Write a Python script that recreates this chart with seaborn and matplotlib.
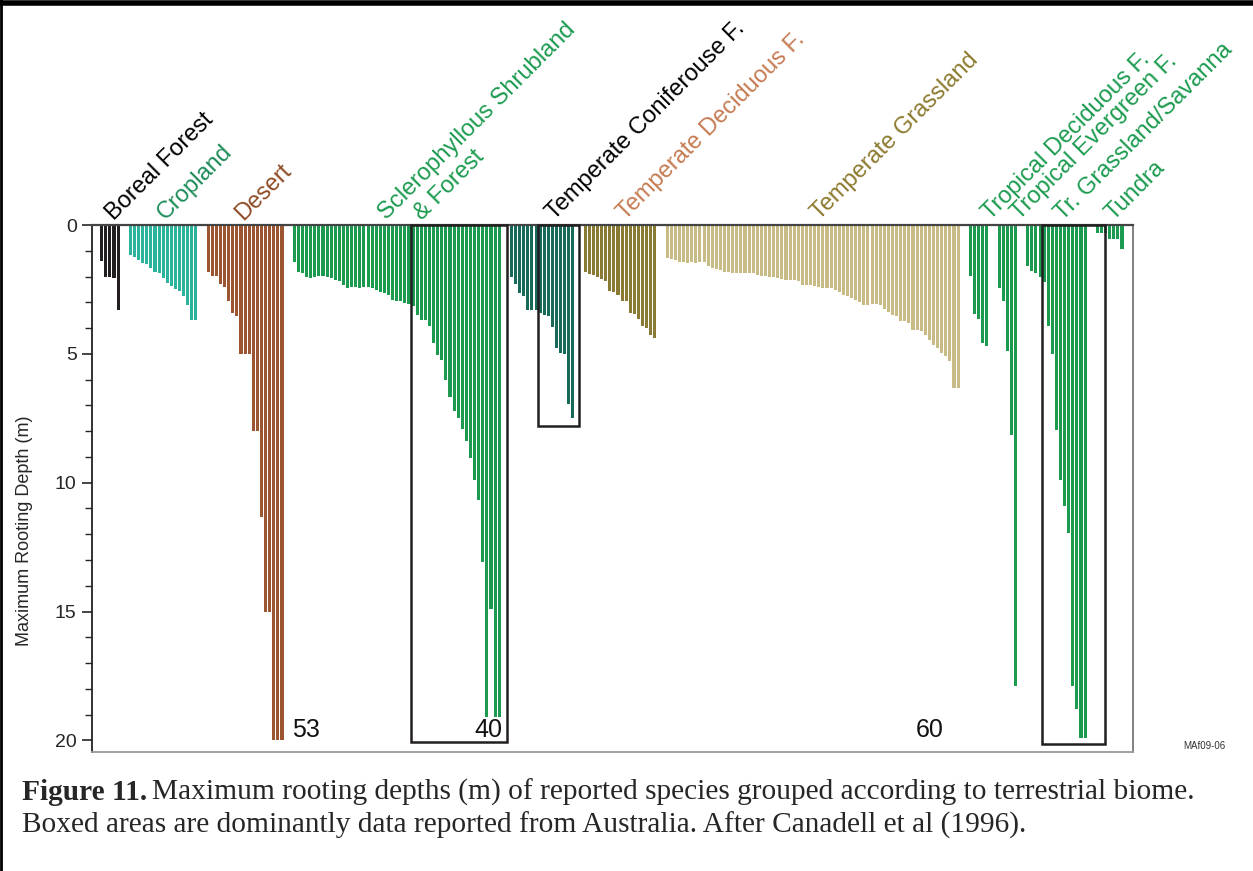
import numpy as np
import pandas as pd
import matplotlib
matplotlib.use("Agg")
from matplotlib import pyplot
from matplotlib.patches import Rectangle
import matplotlib.ticker as ticker
import seaborn as sns

# maximum rooting depth (m) of each reported species, per biome
boreal = [1.4, 2.0, 2.0, 2.05, 3.3]
cropland = [1.16, 1.26, 1.35, 1.48, 1.52, 1.68, 1.83, 1.87, 2.06, 2.26, 2.35, 2.48, 2.55, 2.77, 3.09, 3.7, 3.7]
desert = [1.81, 1.97, 1.97, 2.28, 2.42, 2.94, 3.42, 3.55, 5.0, 5.0, 5.0, 8.0, 8.0, 11.35, 15.0, 15.0, 20.0, 20.0, 20.0]
sclerophyllous = [1.42, 1.81, 1.87, 2.02, 2.06, 2.02, 1.97, 1.97, 2.02, 2.06, 2.15, 2.19, 2.32, 2.45, 2.41,
                  2.41, 2.45, 2.41, 2.42, 2.45, 2.51, 2.6, 2.62, 2.71, 2.9, 2.96, 2.94, 3.02, 3.05,
                  3.16, 3.48, 3.67, 3.7, 3.93, 4.58, 5.03, 5.22, 6.02, 6.67, 7.22, 7.48, 7.93, 8.38, 9.06,
                  9.9, 10.68, 13.09, 19.1, 14.89, 19.1, 19.1]
coniferous = [2.0, 2.28, 2.62, 2.77, 3.29, 3.29, 3.29, 3.42, 3.48, 3.55, 3.96, 4.77, 4.96, 5.0, 6.94, 7.5]
deciduous = [1.81, 1.9, 1.93, 2.02, 2.1, 2.19, 2.57, 2.6, 2.7, 2.96, 2.96, 3.4, 3.45, 3.64, 3.93, 4.0, 4.26, 4.4]
grassland = [1.29, 1.3, 1.35, 1.42, 1.45, 1.48, 1.45, 1.48, 1.45, 1.45, 1.61, 1.68, 1.7, 1.75, 1.82, 1.82,
             1.86, 1.86, 1.86, 1.86, 1.88, 1.86, 1.93, 1.96, 1.99, 2.01, 2.02, 2.05, 2.08, 2.12, 2.12,
             2.15, 2.18, 2.31, 2.34, 2.32, 2.35, 2.41, 2.46, 2.46, 2.46, 2.51, 2.61, 2.71, 2.75, 2.84,
             2.9, 3.0, 3.09, 3.09, 3.05, 3.05, 3.09, 3.26, 3.39, 3.48, 3.55, 3.74, 3.74, 3.8, 4.06,
             4.06, 4.13, 4.26, 4.45, 4.64, 4.77, 4.96, 5.09, 5.28, 6.32, 6.32]
trop_deciduous = [1.96, 3.46, 3.65, 4.58, 4.71]
trop_evergreen = [2.45, 2.94, 4.9, 8.16, 17.9]
savanna = [1.6, 1.8, 1.87, 2.0, 2.23, 3.9, 5.0, 7.96, 9.9, 10.9, 11.95, 17.9, 18.8, 19.9, 19.9]
tundra = [0.3, 0.3, 0.3, 0.54, 0.54, 0.54, 0.92]

biomes = ['Boreal Forest', 'Cropland', 'Desert', 'Sclerophyllous Shrubland', 'Temperate Coniferouse F.',
          'Temperate Deciduous F.', 'Temperate Grassland', 'Tropical Deciduous F.', 'Tropical Evergreen F.',
          'Tr. Grassland/Savanna', 'Tundra']
depths = [boreal, cropland, desert, sclerophyllous, coniferous, deciduous, grassland,
          trop_deciduous, trop_evergreen, savanna, tundra]
bar_colors = ['#231F20', '#2BB39D', '#9B5530', '#1C9B50', '#17695A', '#8A7A33', '#C9BB86',
              '#1C9B50', '#1C9B50', '#1C9B50', '#1C9B50']
label_colors = ['#000000', '#1C8C58', '#8E4A26', '#1C9B50', '#000000', '#C57B52', '#8C7A2E',
                '#1C9B50', '#1C9B50', '#1C9B50', '#1C9B50']
# values of the truncated bars (beyond 20 m)
off_scale = ['53', '40', '60']

# ---- build table ----
gap = 3
rows = []
starts = []
start = 0
for name, vals in zip(biomes, depths):
    starts.append(start)
    for i, v in enumerate(vals):
        rows.append((start + i, v, name))
    start += len(vals) - 1 + gap
df = pd.DataFrame(rows, columns=['pos', 'depth', 'biome'])
last = df['pos'].max()

px_pitch = (1122 - 101.7) / last

sns.set_style("ticks")
pyplot.rcParams['font.family'] = ['Liberation Sans', 'DejaVu Sans']

fig = pyplot.figure(figsize=(12.53, 8.71), dpi=100)
ax = fig.add_axes([92 / 1253, 1 - 752 / 871, (1132.7 - 92) / 1253, (752 - 225) / 871])

sns.barplot(data=df, x='pos', y='depth', hue='biome', palette=dict(zip(biomes, bar_colors)),
            native_scale=True, dodge=False, width=0.75, saturation=1, errorbar=None, legend=False,
            linewidth=0, ax=ax)

ax.set_xlim(-(101.7 - 92) / px_pitch, last + (1132.7 - 1122) / px_pitch)
ax.set_ylim(20.45, 0)
ax.set_xticks([])
ax.set_xlabel('')
ax.yaxis.set_major_locator(ticker.MultipleLocator(5))
ax.yaxis.set_minor_locator(ticker.MultipleLocator(1))
ax.tick_params(axis='y', which='major', length=7, width=1.2, labelsize=14, pad=4)
ax.tick_params(axis='y', which='minor', length=5, width=1.0)
ax.set_ylabel('Maximum Rooting Depth (m)', fontsize=13)
ax.yaxis.set_label_coords(-0.057, 0.42)

ax.spines['top'].set_color('#444444')
ax.spines['top'].set_linewidth(1.6)
ax.spines['left'].set_color('#222222')
ax.spines['left'].set_linewidth(1.3)
ax.spines['right'].set_color('#777777')
ax.spines['right'].set_linewidth(1.3)
ax.spines['bottom'].set_color('#999999')
ax.spines['bottom'].set_linewidth(1.3)

# boxed (Australian) data
scl0, con0, sav0, tun0 = starts[3], starts[4], starts[9], starts[10]
boxes = [
    (scl0 + 28.5, scl0 + len(sclerophyllous) + 1.0, 20.05),
    (con0 + 6.5, con0 + len(coniferous) + 0.5, 7.8),
    (sav0 + 3.5, tun0 + 1.9, 20.15),
]
for x0, x1, bottom in boxes:
    ax.add_patch(Rectangle((x0, 0), x1 - x0, bottom, fill=False, edgecolor='#231F20',
                           linewidth=1.8, zorder=5, clip_on=False))

# biome labels
label_shift = [3.0, 8.5, 8.6, 22.6, 10.4, 9.9, 37.1, 4.8, 4.9, 8.5, 4.0]
trans = ax.get_xaxis_transform()
for name, s, sh, c in zip(biomes, starts, label_shift, label_colors):
    ax.text(s + sh, 1.008, name, transform=trans, rotation=45, rotation_mode='anchor',
            ha='left', va='baseline', fontsize=17, color=c, clip_on=False)
ax.text(starts[3] + 31.1, 1.008, '& Forest', transform=trans, rotation=45, rotation_mode='anchor',
        ha='left', va='baseline', fontsize=17, color=label_colors[3], clip_on=False)

# depth values for truncated bars
ends = [starts[2] + len(desert) - 1, starts[3] + len(sclerophyllous) - 1, starts[6] + len(grassland) - 1]
for e, sh, txt in zip(ends, [5.8, -2.6, -7.0], off_scale):
    ax.text(e + sh, 19.6, txt, ha='center', va='center', fontsize=18, color='#111111')

fig.text(1183 / 1253, 1 - 749 / 871, 'MAf09-06', fontsize=7, color='#333333')

# caption
cap_y1 = 1 - 800 / 871
cap_y2 = 1 - 833 / 871
t1 = fig.text(22 / 1253, cap_y1, 'Figure 11.', family='Liberation Serif', fontweight='bold', fontsize=21.2)
fig.canvas.draw()
bb = t1.get_window_extent(renderer=fig.canvas.get_renderer())
fig.text(bb.x1 / 1253 + 0.004, cap_y1,
         'Maximum rooting depths (m) of reported species grouped according to terrestrial biome.',
         family='Liberation Serif', fontsize=21.2)
fig.text(22 / 1253, cap_y2,
         'Boxed areas are dominantly data reported from Australia. After Canadell et al (1996).',
         family='Liberation Serif', fontsize=21.2)

# frame around the figure
fig.add_artist(pyplot.Line2D([0, 1], [0.997, 0.997], transform=fig.transFigure, color='black', linewidth=4))
fig.add_artist(pyplot.Line2D([0.001, 0.001], [0, 1], transform=fig.transFigure, color='black', linewidth=2))

fig.savefig('out.png', dpi=100)
